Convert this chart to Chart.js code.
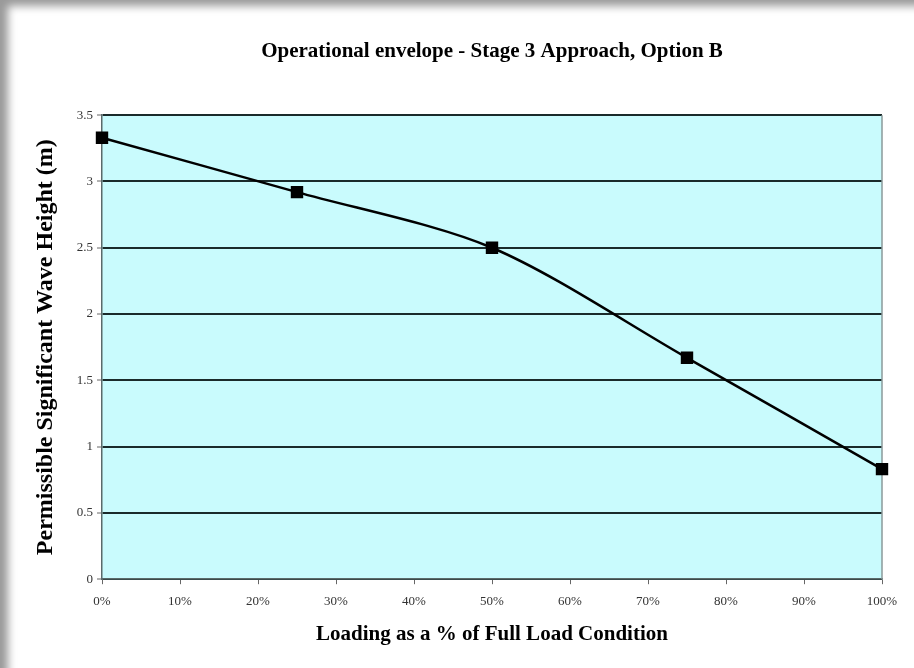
<!DOCTYPE html>
<html>
<head>
<meta charset="utf-8">
<script src="https://cdn.jsdelivr.net/npm/chart.js@4/dist/chart.umd.min.js"></script>
<style>
    html, body { margin: 0; padding: 0; background: #fff; }
    .frame {
        position: absolute; left: 0; top: 0; width: 914px; height: 668px;
        box-shadow: inset 11px 9px 9px -3px #9a9a9a;
    }
    .wrap { position: absolute; left: 0; top: 0; width: 914px; height: 668px; }
</style>
</head>
<body>
<div class="frame"></div>
<div class="wrap"><canvas id="grafico"></canvas></div>
<script>
// valores
const loading = [0, 0.25, 0.5, 0.75, 1.0];
const waveHeight = [3.33, 2.92, 2.50, 1.67, 0.83];
const yTicks = [0, 0.5, 1, 1.5, 2, 2.5, 3, 3.5];
const xTicks = [0, 0.1, 0.2, 0.3, 0.4, 0.5, 0.6, 0.7, 0.8, 0.9, 1.0];

const serif = "'Liberation Serif', 'DejaVu Serif', serif";

// fundo azul claro e borda direita da area do grafico
const plotBg = {
    id: 'plotBg',
    beforeDraw(chart) {
        const { ctx, chartArea: a } = chart;
        ctx.save();
        ctx.fillStyle = '#C9FBFD';
        ctx.fillRect(a.left, a.top, a.right - a.left, a.bottom - a.top);
        ctx.restore();
    },
    beforeDatasetsDraw(chart) {
        const { ctx, chartArea: a } = chart;
        ctx.save();
        ctx.strokeStyle = '#8a9a9a';
        ctx.lineWidth = 1.5;
        ctx.beginPath();
        ctx.moveTo(a.right, a.top);
        ctx.lineTo(a.right, a.bottom);
        ctx.stroke();
        ctx.restore();
    }
};

const ctx = document.getElementById('grafico').getContext('2d');

new Chart(ctx, {
    type: 'line',
    data: {
        datasets: [{
            data: loading.map((x, i) => ({ x: x, y: waveHeight[i] })),
            borderColor: '#000',
            backgroundColor: '#000',
            borderWidth: 2.5,
            pointStyle: 'rect',
            pointRadius: 7,
            tension: 0.3,
            clip: false
        }]
    },
    options: {
        responsive: true,
        maintainAspectRatio: false,
        animation: false,
        layout: { padding: { left: 27, right: 32, top: 0, bottom: 21 } },
        plugins: {
            legend: { display: false },
            tooltip: { enabled: false },
            title: {
                display: true,
                fullSize: false,
                text: 'Operational envelope - Stage 3 Approach, Option B',
                color: '#000',
                font: { family: serif, size: 21, weight: 'bold' },
                padding: { top: 39, bottom: 51 }
            }
        },
        scales: {
            x: {
                type: 'linear',
                min: 0,
                max: 1,
                afterBuildTicks: s => { s.ticks = xTicks.map(v => ({ value: v })); },
                ticks: {
                    color: '#333',
                    font: { family: serif, size: 13 },
                    padding: 10,
                    callback: v => Math.round(v * 100) + '%'
                },
                grid: { drawOnChartArea: false, drawTicks: true, tickLength: 5, color: '#666' },
                border: { color: '#5a6a6a', width: 1.5 },
                title: {
                    display: true,
                    text: 'Loading as a % of Full Load Condition',
                    color: '#000',
                    font: { family: serif, size: 21, weight: 'bold' },
                    padding: { top: 2, bottom: 0 }
                }
            },
            y: {
                min: 0,
                max: 3.5,
                afterBuildTicks: s => { s.ticks = yTicks.map(v => ({ value: v })); },
                afterFit: s => { s.width = 75; },
                ticks: {
                    color: '#333',
                    font: { family: serif, size: 13 },
                    padding: 4,
                    callback: v => String(v)
                },
                grid: { color: '#1a2a2a', lineWidth: 2, tickLength: 5, tickColor: '#666', tickWidth: 1 },
                border: { color: '#5a6a6a', width: 1.5 },
                title: {
                    display: true,
                    text: 'Permissible Significant Wave Height (m)',
                    color: '#000',
                    font: { family: serif, size: 24, weight: 'bold' },
                    padding: { top: 4, bottom: 4 }
                }
            }
        }
    },
    plugins: [plotBg]
});
</script>
</body>
</html>
